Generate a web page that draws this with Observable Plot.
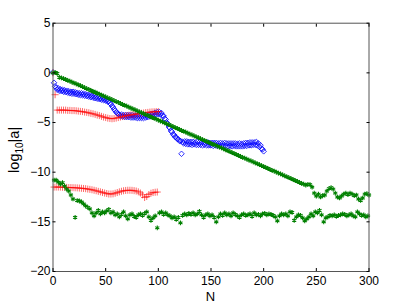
<!DOCTYPE html>
<html><head><meta charset="utf-8">
<script src="https://cdn.jsdelivr.net/npm/d3@7"></script>
<script src="https://cdn.jsdelivr.net/npm/@observablehq/plot@0.6"></script>
<style>html,body{margin:0;padding:0;background:#fff}svg{display:block}</style>
</head><body><div id="chart"></div>
<script>
const xTicks = [0, 50, 100, 150, 200, 250, 300];
const yTicks = [-20, -15, -10, -5, 0, 5];
const xLabel = "N";

// blue diamonds, N = 0..200
const blue = [
 0.05,-1.0,-1.35,-1.5,-1.7,-1.55,-1.8,-1.65,-1.85,-1.7,
 -1.9,-1.75,-1.95,-1.8,-2.0,-1.85,-2.05,-1.9,-2.1,-1.9,
 -2.1,-1.95,-2.15,-2.0,-2.2,-2.05,-2.25,-2.05,-2.25,-2.1,
 -2.3,-2.15,-2.35,-2.2,-2.4,-2.25,-2.45,-2.3,-2.5,-2.35,
 -2.55,-2.4,-2.6,-2.45,-2.65,-2.5,-2.7,-2.55,-2.75,-2.6,
 -2.8,-2.7,-2.9,-2.85,-3.05,-3.15,-3.35,-3.45,-3.65,-3.8,
 -3.95,-4.05,-4.15,-4.2,-4.35,-4.2,-4.4,-4.25,-4.45,-4.25,
 -4.45,-4.25,-4.45,-4.25,-4.5,-4.25,-4.5,-4.3,-4.5,-4.3,
 -4.55,-4.3,-4.55,-4.3,-4.55,-4.35,-4.55,-4.3,-4.5,-4.25,
 -4.45,-4.2,-4.4,-4.15,-4.35,-4.1,-4.3,-4.0,-4.2,-3.95,
 -4.15,-3.95,-4.2,-4.05,-4.3,-4.35,-4.6,-4.7,-5.0,-5.15,
 -5.45,-5.55,-5.85,-5.95,-6.2,-6.25,-6.45,-6.5,-6.65,-6.7,
 -6.85,-6.85,-8.15,-6.95,-7.1,-6.9,-7.15,-6.9,-7.2,-6.95,
 -7.2,-6.95,-7.25,-6.95,-7.2,-7.0,-7.25,-6.95,-7.25,-7.0,
 -7.25,-7.0,-7.3,-7.0,-7.25,-7.05,-7.3,-7.0,-7.3,-7.05,
 -7.3,-7.05,-7.35,-7.05,-7.3,-7.05,-7.35,-7.1,-7.35,-7.05,
 -7.35,-7.1,-7.35,-7.05,-7.35,-7.1,-7.4,-7.1,-7.35,-7.1,
 -7.4,-7.1,-7.35,-7.1,-7.4,-7.15,-7.4,-7.1,-7.4,-7.15,
 -7.4,-7.1,-7.35,-7.05,-7.35,-7.05,-7.3,-7.0,-7.3,-7.0,
 -7.25,-7.0,-7.25,-6.95,-7.3,-7.1,-7.45,-7.3,-7.65,-7.7,
 -7.9
];

// red plus, even N = 0..100
const redEven = [
 0,-2.2,-3.75,-3.75,-3.75,-3.75,-3.75,-3.78,-3.78,-3.8,
 -3.8,-3.82,-3.85,-3.88,-3.9,-3.95,-3.98,-4.02,-4.08,-4.12,
 -4.18,-4.25,-4.3,-4.38,-4.45,-4.5,-4.56,-4.6,-4.62,-4.6,
 -4.55,-4.5,-4.45,-4.4,-4.35,-4.3,-4.27,-4.23,-4.2,-4.17,
 -4.13,-4.1,-4.07,-4.04,-4.0,-3.98,-3.95,-3.93,-3.92,-3.9,
 -3.9
];
// red plus, odd N = 1..99
const redOdd = [
 -11.5,-11.5,-11.5,-11.5,-11.52,-11.52,-11.53,-11.55,-11.55,-11.56,
 -11.57,-11.58,-11.6,-11.62,-11.64,-11.66,-11.7,-11.73,-11.77,-11.82,
 -11.87,-11.93,-11.98,-12.04,-12.1,-12.15,-12.2,-12.2,-12.18,-12.12,
 -12.05,-11.98,-11.92,-11.87,-11.84,-11.82,-11.82,-11.83,-11.86,-11.9,
 -11.98,-12.1,-12.28,-12.55,-12.45,-12.25,-12.12,-12.05,-12.02,-12.0
];

// green asterisks, even N = 0..300
const greenEven = [
 0.0,0.05,-0.05,-0.45,-0.5,-0.58,-0.66,-0.75,-0.84,-0.93,
 -1.02,-1.11,-1.2,-1.29,-1.39,-1.48,-1.58,-1.67,-1.76,-1.86,
 -1.95,-2.05,-2.14,-2.23,-2.33,-2.42,-2.51,-2.6,-2.7,-2.79,
 -2.89,-2.98,-3.07,-3.17,-3.26,-3.35,-3.45,-3.54,-3.64,-3.73,
 -3.82,-3.92,-4.01,-4.1,-4.2,-4.29,-4.38,-4.48,-4.57,-4.66,
 -4.76,-4.85,-4.94,-5.04,-5.13,-5.22,-5.32,-5.41,-5.51,-5.6,
 -5.69,-5.79,-5.88,-5.97,-6.07,-6.16,-6.25,-6.35,-6.44,-6.53,
 -6.63,-6.72,-6.81,-6.91,-7.0,-7.1,-7.19,-7.28,-7.38,-7.47,
 -7.56,-7.66,-7.75,-7.84,-7.94,-8.03,-8.12,-8.22,-8.31,-8.4,
 -8.5,-8.59,-8.69,-8.78,-8.87,-8.97,-9.06,-9.15,-9.25,-9.34,
 -9.43,-9.53,-9.62,-9.71,-9.81,-9.9,-9.99,-10.09,-10.18,-10.27,
 -10.37,-10.46,-10.56,-10.65,-10.74,-10.84,-10.93,-11.02,-11.12,-11.21,
 -11.3,-11.22,-11.25,-11.5,-12.1,-12.4,-12.2,-12.5,-12.35,-12.3,
 -11.9,-11.65,-11.55,-11.7,-12.1,-12.5,-12.6,-12.4,-12.2,-12.1,
 -12.25,-12.1,-12.2,-12.35,-12.3,-12.7,-12.85,-12.6,-12.2,-12.15,
 -12.3
];
// green asterisks, odd N = 1..299
const greenOdd = [
 -10.8,-10.8,-11.0,-11.2,-11.05,-11.4,-11.7,-11.9,-12.3,-12.7,
 -14.55,-12.85,-12.9,-13.0,-13.2,-13.4,-13.55,-13.7,-14.1,-14.4,
 -14.1,-13.85,-14.2,-14.0,-14.1,-13.9,-13.75,-14.1,-14.0,-14.3,
 -14.2,-14.5,-14.25,-14.0,-14.4,-14.7,-14.3,-14.2,-14.45,-14.55,
 -14.3,-14.2,-14.35,-14.15,-14.0,-14.5,-14.85,-14.6,-14.4,-15.6,
 -14.1,-14.0,-14.25,-14.1,-14.3,-14.4,-14.6,-14.5,-14.75,-14.55,
 -15.1,-14.35,-14.2,-14.3,-14.15,-14.25,-14.1,-14.3,-14.2,-13.95,
 -14.3,-14.55,-14.3,-14.2,-14.4,-14.3,-14.55,-15.0,-14.5,-14.2,
 -14.35,-14.1,-14.3,-14.2,-14.4,-14.1,-14.25,-14.4,-14.55,-14.3,
 -14.2,-14.35,-14.3,-14.2,-14.45,-14.1,-14.3,-14.25,-14.4,-14.2,
 -14.15,-14.3,-14.2,-14.25,-14.35,-14.5,-14.9,-14.4,-14.2,-14.3,
 -14.2,-14.4,-14.0,-14.05,-14.85,-14.5,-14.3,-14.35,-14.6,-14.9,
 -14.7,-14.5,-14.2,-14.4,-14.0,-14.1,-13.85,-14.3,-15.0,-14.6,
 -14.5,-14.35,-14.4,-14.3,-14.45,-14.35,-14.3,-14.2,-14.25,-14.4,
 -14.3,-14.2,-14.4,-14.5,-14.0,-14.2,-14.35,-14.3,-14.5,-14.4
];

const bluePts = blue.map((v, i) => ({n: i, v}));
const redPts = redEven.map((v, i) => ({n: 2 * i, v})).concat(redOdd.map((v, i) => ({n: 2 * i + 1, v})));
const greenPts = greenEven.map((v, i) => ({n: 2 * i, v})).concat(greenOdd.map((v, i) => ({n: 2 * i + 1, v})));

const fmt = d => d < 0 ? "\u2212" + Math.abs(d) : String(d);
const FONT = "'Liberation Sans', Arial, Helvetica, sans-serif";

const plot = Plot.plot({
  width: 407, height: 305,
  marginLeft: 52.5, marginRight: 38.5, marginTop: 22.7, marginBottom: 34,
  style: {fontFamily: FONT, fontSize: "12px", background: "#fff", color: "#000"},
  x: {domain: [0, 300]},
  y: {domain: [-20, 5]},
  marks: [
    Plot.dot(bluePts, {x: "n", y: "v", symbol: "diamond2", r: 2.5, stroke: "#0000ff", strokeWidth: 0.8}),
    Plot.dot(redPts, {x: "n", y: "v", symbol: "plus", r: 2.4, stroke: "#ff0000", strokeWidth: 0.6}),
    Plot.dot(greenPts, {x: "n", y: "v", symbol: "asterisk", r: 2.2, stroke: "#008000", strokeWidth: 1.1}),
    Plot.frame({stroke: "#555", strokeWidth: 1}),
    Plot.axisX(xTicks, {anchor: "bottom", tickSize: -3, tickPadding: 8, tickFormat: fmt, label: null}),
    Plot.axisX(xTicks, {anchor: "top", tickSize: -3, tickFormat: () => "", label: null}),
    Plot.axisY(yTicks, {anchor: "left", tickSize: -3, tickPadding: 5.5, tickFormat: fmt, label: null}),
    Plot.axisY(yTicks, {anchor: "right", tickSize: -3, tickFormat: () => "", label: null})
  ]
});
document.getElementById("chart").appendChild(plot);

const sx = plot.scale("x"), sy = plot.scale("y");
const svg = d3.select(plot);
const cx = (sx.range[0] + sx.range[1]) / 2;
const cy = (sy.range[0] + sy.range[1]) / 2;
svg.append("text").attr("x", cx).attr("y", sy.range[0] + 30)
  .attr("text-anchor", "middle").attr("font-family", FONT).attr("font-size", 13).text(xLabel);
const yl = svg.append("text").attr("transform", `translate(19,${cy + 3}) rotate(-90)`)
  .attr("text-anchor", "middle").attr("font-family", FONT).attr("font-size", 14.5);
yl.append("tspan").text("log");
yl.append("tspan").attr("font-size", 10).attr("dy", 3.5).text("10");
yl.append("tspan").attr("dy", -3.5).text("|a|");
</script>
</body></html>
